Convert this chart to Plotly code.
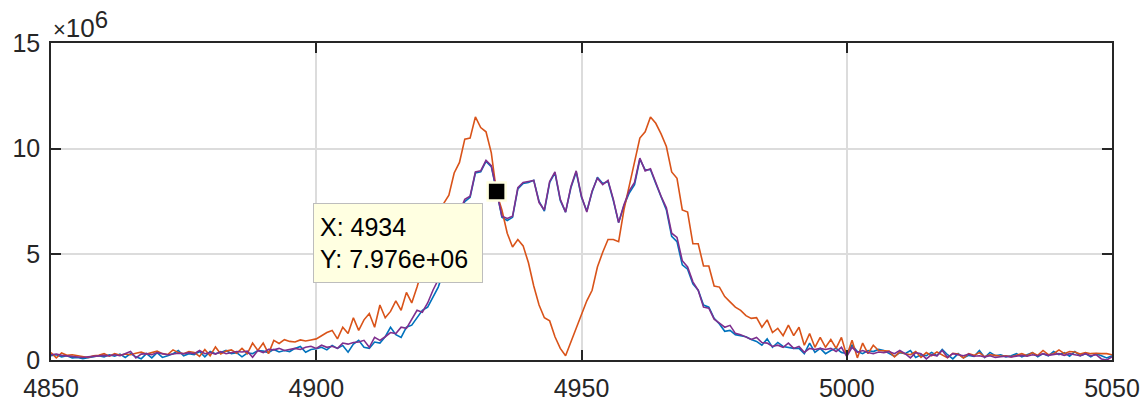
import plotly.graph_objects as go

# x positions (one sample per unit)
x_vals = list(range(4850, 5051))

# series values in units of 1e6
blue_M = [
    0.20, 0.25, 0.15, 0.20, 0.10, 0.12, 0.06, 0.10, 0.15, 0.20,
    0.15, 0.25, 0.18, 0.28, 0.12, 0.30, 0.15, 0.06, 0.30, 0.10,
    0.35, 0.12, 0.20, 0.30, 0.45, 0.20, 0.30, 0.25, 0.40, 0.15,
    0.40, 0.30, 0.35, 0.45, 0.30, 0.35, 0.15, 0.33, 0.30, 0.45,
    0.42, 0.35, 0.50, 0.38, 0.45, 0.40, 0.55, 0.64, 0.37, 0.50,
    0.53, 0.60, 0.48, 0.69, 0.55, 0.69, 0.37, 0.75, 0.93, 0.60,
    0.55, 0.85, 0.80, 1.10, 1.55, 1.20, 1.07, 1.55, 1.65, 2.00,
    2.35, 2.50, 3.00, 3.45, 4.20, 5.10, 6.10, 6.90, 7.50, 7.70,
    8.85, 8.90, 9.40, 9.15, 7.976, 6.75, 6.60, 6.75, 8.10, 8.35,
    8.40, 8.50, 7.50, 7.05, 8.40, 8.85, 7.55, 7.00, 8.15, 8.90,
    7.70, 7.05, 7.95, 8.65, 8.35, 8.45, 7.55, 6.50, 7.30, 7.90,
    8.30, 9.50, 9.00, 9.00, 8.35, 7.70, 7.10, 5.85, 5.60, 4.50,
    4.30, 3.60, 3.30, 2.60, 2.50, 1.97, 1.70, 1.36, 1.40, 1.20,
    1.15, 1.10, 0.97, 0.88, 0.70, 1.00, 0.60, 0.83, 0.64, 0.60,
    0.55, 0.55, 0.30, 0.80, 0.36, 0.55, 0.30, 0.45, 0.55, 0.36,
    0.30, 0.70, 0.40, 0.30, 0.45, 0.40, 0.50, 0.45, 0.30, 0.17,
    0.35, 0.30, 0.45, 0.12, 0.25, 0.20, 0.36, 0.20, 0.50, 0.25,
    0.05, 0.30, 0.10, 0.22, 0.17, 0.45, 0.12, 0.36, 0.20, 0.25,
    0.15, 0.20, 0.30, 0.15, 0.25, 0.35, 0.15, 0.30, 0.20, 0.40,
    0.25, 0.35, 0.18, 0.40, 0.20, 0.30, 0.15, 0.30, 0.20, 0.10,
    0.20,
]

orange_M = [
    0.35, 0.10, 0.33, 0.22, 0.25, 0.20, 0.18, 0.12, 0.20, 0.22,
    0.30, 0.18, 0.30, 0.22, 0.28, 0.25, 0.32, 0.37, 0.28, 0.35,
    0.42, 0.30, 0.26, 0.48, 0.35, 0.30, 0.40, 0.36, 0.17, 0.50,
    0.20, 0.62, 0.28, 0.42, 0.48, 0.32, 0.55, 0.30, 0.80, 0.45,
    0.80, 0.30, 0.93, 0.78, 0.96, 0.88, 0.85, 0.95, 0.90, 0.95,
    1.00, 1.15, 1.30, 1.40, 1.00, 1.55, 1.25, 2.00, 1.40, 1.90,
    2.20, 1.55, 2.60, 2.00, 2.30, 2.80, 2.35, 3.20, 2.70, 3.45,
    4.30, 5.30, 6.20, 6.90, 7.40, 7.80, 8.85, 9.35, 10.45, 10.50,
    11.50, 11.00, 10.80, 9.80, 7.90, 7.10, 6.00, 5.35, 5.70, 5.40,
    4.60, 3.50, 2.60, 2.00, 1.85, 1.10, 0.55, 0.20, 0.85, 1.55,
    2.20, 2.80, 3.30, 4.40, 5.10, 5.70, 5.70, 5.60, 7.10, 8.20,
    9.40, 10.50, 10.80, 11.50, 11.20, 10.70, 10.10, 8.90, 8.60, 7.10,
    7.00, 5.50, 5.50, 4.45, 4.45, 3.50, 3.45, 3.00, 2.75, 2.50,
    2.35, 2.10, 1.97, 2.00, 1.55, 1.90, 1.30, 1.50, 1.15, 1.65,
    1.15, 1.55, 0.70, 1.25, 0.60, 1.07, 0.60, 0.97, 0.55, 1.07,
    0.20, 0.93, 0.10, 0.80, 0.30, 0.70, 0.45, 0.45, 0.42, 0.15,
    0.38, 0.30, 0.25, 0.40, 0.12, 0.35, 0.20, 0.38, 0.25, 0.10,
    0.32, 0.28, 0.10, 0.30, 0.22, 0.35, 0.15, 0.25, 0.22, 0.18,
    0.20, 0.15, 0.22, 0.30, 0.20, 0.35, 0.22, 0.45, 0.25, 0.30,
    0.48, 0.30, 0.40, 0.38, 0.28, 0.35, 0.30, 0.32, 0.30, 0.30,
    0.25,
]

purple_M = [
    0.25, 0.28, 0.22, 0.20, 0.18, 0.15, 0.12, 0.15, 0.18, 0.20,
    0.22, 0.20, 0.25, 0.20, 0.30, 0.40, 0.10, 0.28, 0.30, 0.25,
    0.35, 0.30, 0.25, 0.28, 0.32, 0.30, 0.35, 0.30, 0.45, 0.30,
    0.35, 0.28, 0.40, 0.30, 0.35, 0.40, 0.38, 0.42, 0.13, 0.45,
    0.35, 0.50, 0.48, 0.55, 0.45, 0.50, 0.55, 0.50, 0.60, 0.65,
    0.55, 0.70, 0.60, 0.65, 0.55, 0.80, 0.75, 0.83, 0.85, 0.93,
    0.60, 1.07, 0.93, 1.10, 1.30, 1.25, 1.55, 1.50, 1.95, 2.35,
    2.26, 2.70, 3.30, 3.80, 4.30, 5.20, 6.20, 7.00, 7.60, 7.75,
    8.90, 8.95, 9.45, 9.20, 7.98, 6.80, 6.70, 6.80, 8.15, 8.40,
    8.45, 8.50, 7.45, 7.10, 8.45, 8.90, 7.60, 7.00, 8.20, 8.95,
    7.75, 7.00, 8.00, 8.60, 8.30, 8.50, 7.60, 6.50, 7.35, 8.00,
    8.40, 9.55, 8.95, 9.05, 8.40, 7.75, 7.20, 6.00, 5.80, 4.70,
    4.40, 3.70, 3.30, 2.50, 2.45, 1.93, 1.74, 1.55, 1.64, 1.26,
    1.20, 1.07, 0.97, 1.07, 0.83, 0.80, 0.64, 0.70, 0.60, 0.80,
    0.55, 0.64, 0.36, 0.55, 0.50, 0.55, 0.50, 0.55, 0.40, 0.60,
    0.17, 0.60, 0.36, 0.45, 0.35, 0.30, 0.38, 0.35, 0.40, 0.30,
    0.45, 0.30, 0.10, 0.35, 0.30, 0.05, 0.25, 0.20, 0.45, 0.12,
    0.30, 0.25, 0.20, 0.28, 0.18, 0.20, 0.15, 0.20, 0.12, 0.15,
    0.18, 0.15, 0.20, 0.22, 0.18, 0.25, 0.20, 0.30, 0.22, 0.25,
    0.30, 0.22, 0.30, 0.25, 0.20, 0.30, 0.20, 0.25, 0.05, 0.00,
    0.15,
]

x_ticks = [4850, 4900, 4950, 5000, 5050]
y_ticks_M = [0, 5, 10, 15]
y_ticktext = ["0", "5", "10", "15"]
y_scale = 1e6
tip_x = 4934

FONT = "Liberation Sans, Arial, Helvetica, sans-serif"
AX = "#262626"
GRID = "#DCDCDC"

fig = go.Figure()
for ys, col in [(blue_M, "#0072BD"), (orange_M, "#D95319"), (purple_M, "#7E2F8E")]:
    fig.add_trace(go.Scatter(
        x=x_vals, y=[v * y_scale for v in ys], mode="lines",
        line=dict(color=col, width=1.6), showlegend=False, hoverinfo="skip"))

tip_y = blue_M[x_vals.index(tip_x)] * y_scale
fig.add_trace(go.Scatter(
    x=[tip_x], y=[tip_y], mode="markers",
    marker=dict(symbol="square", size=18, color="black",
                line=dict(color="#FFFFE1", width=2.5)),
    showlegend=False, hoverinfo="skip"))

fig.add_annotation(
    x=tip_x, y=tip_y, xref="x", yref="y",
    text=f"X: {tip_x}<br>Y: {tip_y:.3e}",
    showarrow=False, xanchor="right", yanchor="top",
    xshift=-14, yshift=-12, align="left",
    bgcolor="#FFFFE1", bordercolor="#BDBDBD", borderwidth=1, borderpad=6,
    width=156, height=66,
    font=dict(family=FONT, size=25, color="black"))

fig.add_annotation(
    x=0, y=1, xref="paper", yref="paper", xanchor="left", yanchor="bottom",
    xshift=0, yshift=-2, showarrow=False,
    text="\u00d7<span style='font-size:26px'>10</span><sup><span style='font-size:24px'>6</span></sup>",
    font=dict(family=FONT, size=22, color=AX))

axis_common = dict(
    showgrid=True, gridcolor=GRID, gridwidth=1.5,
    ticks="inside", ticklen=10, tickwidth=1.5, tickcolor=AX,
    showline=True, linecolor=AX, linewidth=1.5, mirror="ticks",
    zeroline=False, automargin=False,
    tickfont=dict(family=FONT, size=25, color=AX),
)

fig.update_layout(
    width=1147, height=403,
    margin=dict(l=51, r=35, t=43, b=43),
    paper_bgcolor="white", plot_bgcolor="white",
    xaxis=dict(range=[4850, 5050], tickvals=x_ticks,
               ticklabelstandoff=5, **axis_common),
    yaxis=dict(range=[0, 15 * y_scale],
               tickvals=[v * y_scale for v in y_ticks_M],
               ticktext=y_ticktext, ticklabelstandoff=4, **axis_common),
)

fig.write_html("out.html")
